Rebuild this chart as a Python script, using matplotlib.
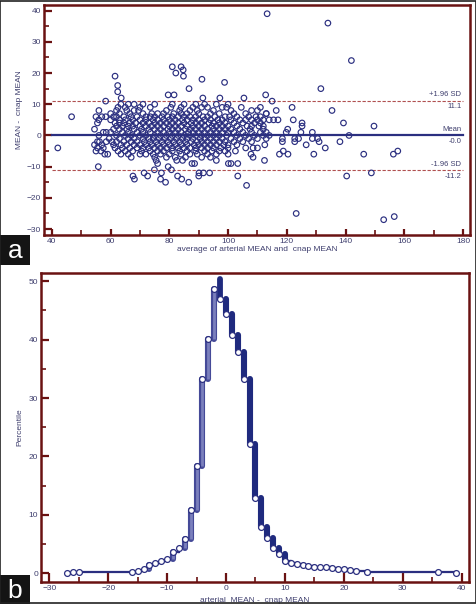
import matplotlib
matplotlib.use("Agg")
import matplotlib.pyplot as plt
from matplotlib.patches import Rectangle
from matplotlib.ticker import MultipleLocator

plt.rcParams['font.family'] = ['Liberation Sans', 'DejaVu Sans']

# ---------------- Panel a: Bland-Altman data ----------------
# dense cloud: y-level -> list of x (average) values
cloud_rows = {
    10: [63.5, 66, 68, 71, 75, 81, 85, 89, 92, 96, 100],
    9: [62.5, 65, 70, 73.5, 80.5, 84, 88, 91, 93, 98, 99.5, 104.5, 111],
    8: [56, 62, 65.5, 68, 69.5, 79, 83.5, 87, 89.5, 95, 101, 108, 110],
    7: [60, 63, 66.5, 71, 74, 76, 78, 81.5, 84, 86, 90, 94, 97, 102, 106, 113],
    6: [55, 57, 58.3, 61, 62, 64.5, 67, 69, 72, 73.5, 75, 77.5, 79.5, 81, 83, 85, 87, 89,
        91.5, 93, 95.5, 99, 100.5, 103, 107, 109.5, 111],
    5: [56, 60, 63, 65, 67.5, 70, 72, 74.5, 76, 78, 80, 82, 84.5, 86, 88, 90, 92, 94, 96.5,
        98, 101, 104, 106, 108, 110, 112, 114, 115.5, 117],
    4: [55.5, 61.5, 63, 64.5, 66.5, 68.5, 71, 73, 75, 77, 79, 81, 83, 85, 87.5, 89, 91, 93.5,
        95, 97, 99, 102, 105, 109, 111],
    3: [62, 64, 66, 67.5, 70, 72, 74, 76, 78, 80, 82, 84, 86, 88, 90, 92, 94.5, 96, 98, 100,
        103, 106.5, 108, 110.5, 112],
    2: [54.5, 61, 63, 65.5, 68, 70.5, 73, 75, 77, 79.5, 81, 83, 85.5, 87, 89, 91, 93, 95, 97,
        99, 101, 104, 107.5, 112],
    1: [57.5, 58.5, 60, 64, 66, 69, 71, 73.5, 76, 78, 80, 82, 84, 86.5, 88, 90, 92, 94, 96, 98,
        100, 102, 105, 108, 111, 113],
    0: [56, 62, 65, 67, 70, 72, 75, 77, 79, 81, 83, 85, 87, 89, 91, 93, 95, 97, 99.5, 103,
        106, 109, 112, 114],
    -1: [59.5, 63, 66, 68, 71, 73, 74.5, 76.5, 78.5, 80.5, 82.5, 84.5, 86, 88, 90.5, 92, 94,
         96, 98, 101, 104, 107, 110, 113],
    -2: [55.5, 56.2, 58.5, 60.5, 62, 64.5, 67, 69, 71.5, 73.5, 75.5, 77.5, 79.5, 81.5, 83.5,
         85.5, 87.5, 89.5, 91, 93, 95, 97, 99, 102, 105, 108],
    -3: [54.5, 57, 61, 63.5, 65.5, 68, 70, 72, 74, 76, 78, 80, 82, 84, 86, 88.5, 90, 92, 94,
         96, 98.5, 100, 103, 112.5],
    -4: [55.5, 57.5, 61.5, 64, 66.5, 69, 71, 73, 75, 77, 79, 81, 83, 85, 87, 89, 91, 93, 95,
         97.5, 100, 106, 108.5, 110],
    -5: [55, 56.7, 62.5, 65, 67.5, 70.5, 73.5, 76, 78, 81, 83.5, 86, 89, 92, 94.5, 97, 99, 102.5],
    -6: [58, 59, 63.5, 66, 70, 72, 74.5, 77, 80, 84, 87, 89.5, 93, 96, 100],
    -7: [67, 75, 79, 82, 85.5, 91, 94],
    -8: [75.5, 82.5, 84.5, 96],
    -9: [76],
}
outlier_x = [113.3, 134, 142, 131.6, 112.8, 115, 135.4, 139.3, 149.7, 141.2, 138.1, 133.1,
             129.2, 146.2, 156.3, 157.8, 148.8, 140.4, 123.2, 153, 156.6, 106.3, 42, 46.7,
             61.5, 62.4, 62.4, 63.6, 58.3, 81, 84, 84.7, 82.2, 84.8, 91.1, 98.8, 86.7, 79.6,
             81.6, 91.4, 97.2, 105.4, 121.8, 116.4, 113, 122.2, 125.2, 125.2, 120.3, 119.8,
             118.5, 118.5, 122.7, 122.7, 126.6, 117.5, 118.8, 120.4, 112.4, 108.5, 107.8,
             103.3, 100.1, 101, 103.3, 87.7, 88.6, 86.6, 90.1, 91.6, 93.7, 90, 84.2, 82.8,
             79.6, 80.7, 77.3, 77, 78.7, 74.9, 72.6, 71.4, 67.6, 68.1, 55.8, 128.7, 128.7,
             130.5, 131, 124.8, 124]
outlier_y = [39, 36, 24, 15, 13, 11, 8, 4, 3, 0, -2, -4,
             -6, -6, -6, -5, -12, -13, -25, -27, -26, -16, -4, 6,
             19, 16, 14, 12, 11, 22, 22, 21, 20, 19, 18, 17, 15, 13,
             13, 12, 12, 12, 9, 8, 7, 5, 4, 3, 2, 1,
             -1, -2, -1, -2, -3, -6, -5, -6, -8, -7, -6,
             -13, -9, -9, -9, -9, -9, -15, -12, -12, -12, -13, -14, -13,
             -10, -11, -12, -14, -15, -11, -13, -12, -13, -14, -10, 1, -1,
             -1, -2, 1, -1]

mean_diff = -0.0
upper_loa = 11.1
lower_loa = -11.2

# ---------------- Panel b: mountain plot data ----------------
diff_vals = [-27, -26, -25, -16, -15, -14, -13, -12, -11, -10, -9, -8, -7, -6, -5, -4, -3, -2,
             -1, 0, 1, 2, 3, 4, 5, 6, 7, 8, 9, 10, 11, 12, 13, 14, 15, 16, 17, 18, 19, 20,
             21, 22, 24, 36, 39]
pct_vals = [0.1, 0.15, 0.22, 0.3, 0.46, 0.68, 1.4, 1.83, 2.17, 2.4, 3.7, 4.3, 5.85, 10.85,
            18.4, 33.2, 40.2, 48.7,
            46.9, 44.4, 40.8, 37.9, 33.3, 22.2, 12.9, 7.85, 6.0, 4.3, 3.3, 2.1, 1.83, 1.6,
            1.43, 1.3, 1.14, 1.12, 1.03, 0.97, 0.8, 0.68, 0.57, 0.4, 0.23, 0.17, 0.06]
pct_peak = 50.4

# ---------------- styling ----------------
NAVY = '#2b2f80'
TXT = '#3f3f6e'
FRAME = '#6a1212'
DASH = '#b05050'

W, H = 476, 604
fig = plt.figure(figsize=(W / 100, H / 100), dpi=100)
fig.patch.set_facecolor('white')


def style_axes(ax, ylen, xlen):
    for s in ax.spines.values():
        s.set_color(FRAME)
        s.set_linewidth(1.8)
    ax.tick_params(which='major', direction='in', color=FRAME, width=1.6,
                   labelsize=6, labelcolor=TXT, pad=2, top=False, right=False)
    ax.tick_params(axis='y', which='major', length=ylen)
    ax.tick_params(axis='x', which='major', length=xlen)
    ax.tick_params(which='minor', direction='in', color=FRAME, width=1.2, length=3.5,
                   top=False, right=False)


# ---- Panel a ----
axa = fig.add_axes([44 / W, 1 - 235 / H, 426 / W, 230 / H])
xs, ys = [], []
for yv, row in cloud_rows.items():
    for xv in row:
        xs.append(xv)
        ys.append(yv)
xs += outlier_x
ys += outlier_y
axa.scatter(xs, ys, s=16, facecolors='none', edgecolors=NAVY, linewidths=0.85, zorder=3)
axa.plot([40, 180], [mean_diff, mean_diff], color=NAVY, lw=1.6, zorder=2)
for v in (upper_loa, lower_loa):
    axa.plot([40, 180], [v, v], color=DASH, lw=0.8, ls=(0, (3, 1.5)), zorder=2)
lab_kw = dict(ha='right', fontsize=5.5, color=TXT, zorder=4)
axa.text(179.5, upper_loa + 0.8, '+1.96 SD', va='bottom', **lab_kw)
axa.text(179.5, upper_loa - 0.8, f'{upper_loa:.1f}', va='top', **lab_kw)
axa.text(179.5, mean_diff + 0.8, 'Mean', va='bottom', **lab_kw)
axa.text(179.5, mean_diff - 0.8, f'{mean_diff:.1f}', va='top', **lab_kw)
axa.text(179.5, lower_loa + 0.8, '-1.96 SD', va='bottom', **lab_kw)
axa.text(179.5, lower_loa - 0.8, f'{lower_loa:.1f}', va='top', **lab_kw)
axa.set_xlim(37.3, 182.4)
axa.set_ylim(-31.9, 41.8)
axa.xaxis.set_major_locator(MultipleLocator(20))
axa.xaxis.set_minor_locator(MultipleLocator(10))
axa.yaxis.set_major_locator(MultipleLocator(10))
axa.yaxis.set_minor_locator(MultipleLocator(5))
style_axes(axa, 5.8, 4.5)
axa.set_xticks([40, 60, 80, 100, 120, 140, 160, 180])
axa.set_yticks([-30, -20, -10, 0, 10, 20, 30, 40])
fig.text(20 / W, 1 - 110 / H, 'MEAN -  cnap MEAN', rotation=90, ha='center', va='center',
         fontsize=6, color=TXT)
fig.text(257 / W, 1 - 249 / H, 'average of arterial MEAN and  cnap MEAN', ha='center',
         va='center', fontsize=6, color=TXT)

# ---- Panel b ----
axb = fig.add_axes([41 / W, 1 - 582 / H, 428 / W, 309 / H])
prev_x, prev_y = diff_vals[0], 0.0
peak_i = pct_vals.index(max(pct_vals)) + 1
for i, (xv, yv) in enumerate(zip(diff_vals, pct_vals)):
    axb.plot([prev_x, xv], [prev_y, prev_y], color=NAVY, lw=1.6, zorder=2,
             solid_capstyle='butt')
    if i == peak_i:
        seg_y = [prev_y, pct_peak, yv]
        axb.plot([xv, xv], [min(seg_y), max(seg_y)], color='#1f2a7e', lw=4.2, zorder=2,
                 solid_capstyle='round')
    elif i < peak_i:
        if yv - prev_y > 0.6:
            axb.plot([xv, xv], [prev_y, yv], color='#454a98', lw=4.4, zorder=2,
                     solid_capstyle='round')
            axb.plot([xv, xv], [prev_y, yv], color='#7b80bd', lw=2.0, zorder=2,
                     solid_capstyle='butt')
        else:
            axb.plot([xv, xv], [prev_y, yv], color=NAVY, lw=1.6, zorder=2)
    else:
        if prev_y - yv > 0.6:
            axb.plot([xv, xv], [prev_y, yv], color='#1f2a7e', lw=4.4, zorder=2,
                     solid_capstyle='round')
        else:
            axb.plot([xv, xv], [prev_y, yv], color=NAVY, lw=1.6, zorder=2)
    prev_x, prev_y = xv, yv
axb.plot(diff_vals, pct_vals, ls='none', marker='o', ms=4.2, mfc='white', mec=NAVY,
         mew=0.9, zorder=3)
axb.xaxis.set_major_locator(MultipleLocator(10))
axb.xaxis.set_minor_locator(MultipleLocator(5))
axb.yaxis.set_major_locator(MultipleLocator(10))
axb.yaxis.set_minor_locator(MultipleLocator(5))
style_axes(axb, 5.8, 6.3)
axb.set_xticks([-30, -20, -10, 0, 10, 20, 30, 40])
axb.set_yticks([0, 10, 20, 30, 40, 50])
axb.set_xlim(-31.41, 41.26)
axb.set_ylim(-1.49, 51.42)
fig.text(20 / W, 1 - 427 / H, 'Percentile', rotation=90, ha='center', va='center',
         fontsize=6, color=TXT)
fig.text(255 / W, 1 - 600 / H, 'arterial  MEAN -  cnap MEAN', ha='center', va='center',
         fontsize=6, color=TXT)

# ---- panel letters ----
for (y0, letter) in ((235, 'a'), (575, 'b')):
    fig.patches.append(Rectangle((0, 1 - (y0 + 30) / H), 30 / W, 30 / H,
                                 transform=fig.transFigure, facecolor='#141414',
                                 edgecolor='none', zorder=5))
    fig.text(15 / W, 1 - (y0 + 16) / H, letter, ha='center', va='center', fontsize=19,
             color='white', zorder=6)

# outer border
fig.patches.append(Rectangle((0.001, 0.001), 0.998, 0.998, transform=fig.transFigure,
                             facecolor='none', edgecolor='#222222', lw=1.2, zorder=7))

fig.savefig('out.png', dpi=100, facecolor='white')
